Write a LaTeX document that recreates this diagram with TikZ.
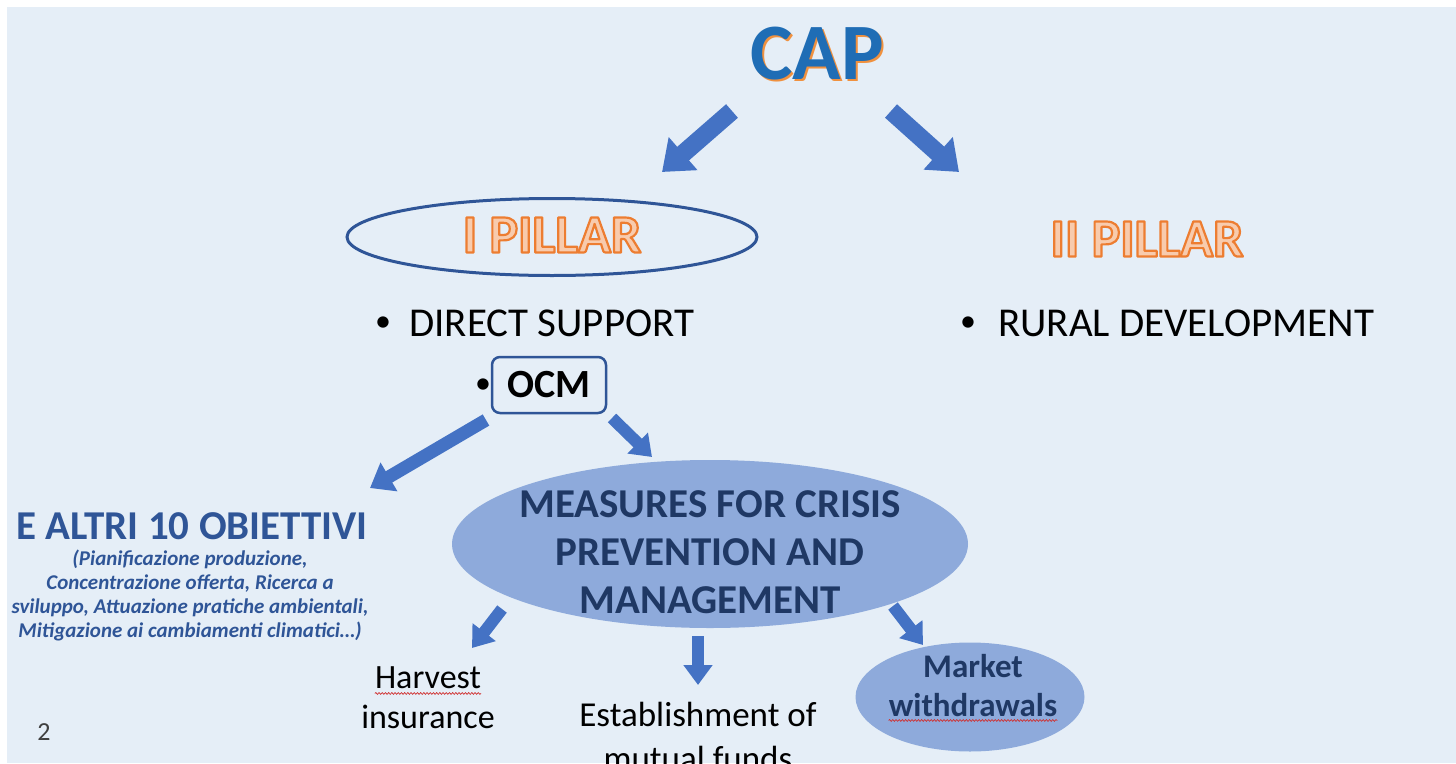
\documentclass[tikz,border=0pt]{standalone}
\usepackage{fontspec}
\setmainfont{Carlito}
\usetikzlibrary{arrows.meta,shapes.geometric,decorations.pathmorphing}
\definecolor{bg}{HTML}{E5EEF7}
\definecolor{capblue}{HTML}{1F6DB5}
\definecolor{capshadow}{HTML}{F0913F}
\definecolor{arrowblue}{HTML}{4472C4}
\definecolor{rimblue}{HTML}{2F5597}
\definecolor{olstroke}{HTML}{ED7D31}
\definecolor{olfill}{HTML}{F8CBAD}
\definecolor{ellfill}{HTML}{8EAADB}
\definecolor{darktext}{HTML}{1F3864}
\definecolor{objblue}{HTML}{2F5597}
\definecolor{squig}{HTML}{D03030}
% outlined text: fill light orange, stroke orange (PDF text render mode 2)
\newcommand\olword[1]{%
  {\color{olfill}%
   \special{pdf:literal direct 0.929 0.490 0.192 RG 2.2 w 1 j 2 Tr}%
   #1%
   \special{pdf:literal direct 0 Tr}}}
\newcommand\shadowword[1]{%
  \leavevmode
  \rlap{\color{capshadow}\kern2pt\raisebox{-2.5pt}{#1}}%
  {\color{capblue}#1}}
\tikzset{
  bigarrow/.style={draw=arrowblue, line width=18pt, -{Triangle[width=42pt,length=28pt]}},
  midarrow/.style={draw=arrowblue, line width=13pt, -{Triangle[width=32pt,length=22pt]}},
  smallarrow/.style={draw=arrowblue, line width=12pt, -{Triangle[width=28pt,length=20pt]}},
  plaintext/.style={inner sep=0pt, text=black},
  bulletdot/.style={inner sep=0pt, text=black, font=\fontsize{32}{32}\selectfont},
  fillell/.style={ellipse, fill=ellfill, inner sep=0pt},
  squiggle/.style={draw=squig, line width=0.7pt, decorate, decoration={snake, amplitude=0.9pt, segment length=3.2pt}}
}
\begin{document}
\begin{tikzpicture}[x=1pt,y=-1pt]
\useasboundingbox (0,0) rectangle (1456,763);
\fill[white] (0,0) rectangle (1456,763);
\fill[bg] (7,7) rectangle (1456,763);

% CAP
\node[plaintext, anchor=base, font=\fontsize{80}{82}\selectfont\bfseries] (cap) at (817,79) {\shadowword{CAP}};

% arrows from CAP
\coordinate (capLtail) at (732,111);
\coordinate (capLtip) at (662,172);
\coordinate (capRtail) at (891,111);
\coordinate (capRtip) at (959,172);
\draw[bigarrow] (capLtail) -- (capLtip);
\draw[bigarrow] (capRtail) -- (capRtip);

% pillars
\node[ellipse, draw=rimblue, line width=3pt, minimum width=410pt, minimum height=77pt, inner sep=0pt] (p1) at (552,237) {};
\node[plaintext, font=\fontsize{54}{56}\selectfont\bfseries] (p1text) at (552,235) {\olword{I PILLAR}};
\node[plaintext, font=\fontsize{54}{56}\selectfont\bfseries] (p2) at (1147,239) {\olword{II PILLAR}};

% bullets
\node[bulletdot] (directbullet) at (383,324) {\textbullet};
\node[plaintext, anchor=base west, font=\fontsize{41}{44}\selectfont] (direct) at (409,336) {DIRECT SUPPORT};
\node[bulletdot] (ruralbullet) at (968,324) {\textbullet};
\node[plaintext, anchor=base west, font=\fontsize{41}{44}\selectfont] (rural) at (998,336) {RURAL DEVELOPMENT};

% OCM
\node[draw=rimblue, line width=2.5pt, rounded corners=8pt, minimum width=114pt, minimum height=56pt,
      inner sep=0pt, font=\fontsize{40}{44}\selectfont\bfseries] (ocm) at (549,385) {OCM};
\node[bulletdot] (ocmbullet) at (483,386) {\textbullet};

\coordinate (ocmLtail) at (486,420);
\coordinate (ocmLtip) at (370,488);
\coordinate (ocmRtail) at (612,418);
\coordinate (ocmRtip) at (652,457);
\draw[midarrow] (ocmLtail) -- (ocmLtip);
\draw[smallarrow] (ocmRtail) -- (ocmRtip);

% E ALTRI 10 OBIETTIVI
\node[plaintext, anchor=base, text=objblue, font=\fontsize{41}{44}\selectfont\bfseries] (altri) at (192,539) {E ALTRI 10 OBIETTIVI};
\node[plaintext, anchor=north, align=center, text=objblue, font=\fontsize{21}{24}\selectfont\bfseries\itshape] (altridesc) at (190,550)
  {(Pianificazione produzione,\\Concentrazione offerta, Ricerca a\\sviluppo, Attuazione pratiche ambientali,\\Mitigazione ai cambiamenti climatici…)};

% crisis ellipse
\node[fillell, minimum width=516pt, minimum height=168pt] (crisis) at (710,544) {};
\node[plaintext, align=center, text=darktext, font=\fontsize{41}{48}\selectfont\bfseries] (crisistext) at (710,552)
  {MEASURES FOR CRISIS\\PREVENTION AND\\MANAGEMENT};

% arrows from crisis
\coordinate (crLtail) at (502,609);
\coordinate (crLtip) at (472,648);
\coordinate (crMtail) at (698,636);
\coordinate (crMtip) at (698,685);
\coordinate (crRtail) at (893,606);
\coordinate (crRtip) at (923,645);
\draw[smallarrow] (crLtail) -- (crLtip);
\draw[smallarrow] (crMtail) -- (crMtip);
\draw[smallarrow] (crRtail) -- (crRtip);

% Harvest insurance
\node[plaintext, anchor=base, font=\fontsize{34}{40}\selectfont] (harvest) at (428,688) {Harvest};
\node[plaintext, anchor=base, font=\fontsize{34}{40}\selectfont] (insurance) at (428,728) {insurance};
\draw[squiggle] ([yshift=-5pt]harvest.south west) -- ([yshift=-5pt]harvest.south east);

% Establishment
\node[plaintext, anchor=base, font=\fontsize{35}{40}\selectfont] (estab) at (698,726) {Establishment of};
\node[plaintext, anchor=base, font=\fontsize{35}{40}\selectfont] (mutual) at (698,770) {mutual funds};

% Market withdrawals
\node[fillell, minimum width=229pt, minimum height=109pt] (market) at (970,697) {};
\node[plaintext, anchor=base, text=darktext, font=\fontsize{33}{36}\selectfont\bfseries] (marketA) at (973,677) {Market};
\node[plaintext, anchor=base, text=darktext, font=\fontsize{33}{36}\selectfont\bfseries] (marketB) at (973,716) {withdrawals};
\draw[squiggle] ([yshift=-4pt]marketB.south west) -- ([yshift=-4pt]marketB.south east);

% page number
\node[plaintext, anchor=base, text=black!75, font=\fontsize{26}{30}\selectfont] (pagenum) at (44,740) {2};
\end{tikzpicture}
\end{document}
